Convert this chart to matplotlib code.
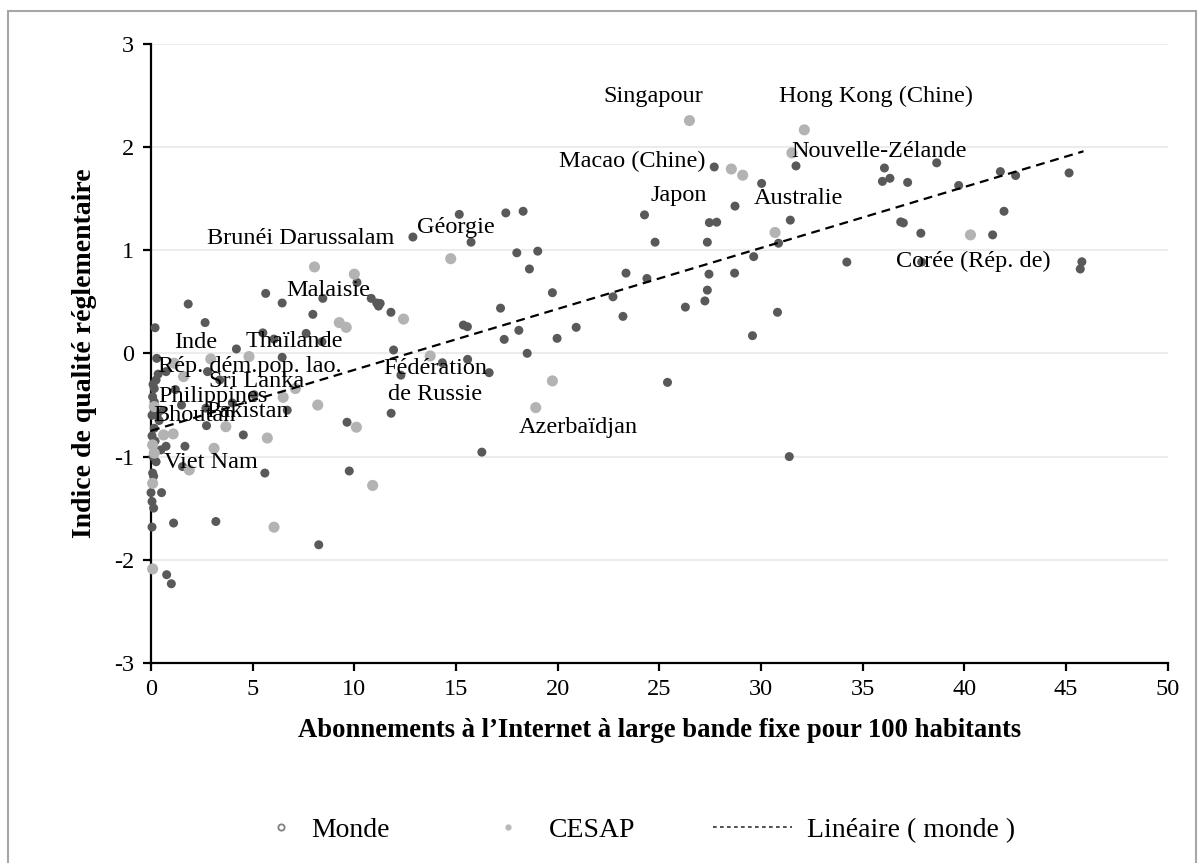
import matplotlib
matplotlib.use("Agg")
import matplotlib.pyplot as plt
from matplotlib.lines import Line2D
from matplotlib.patches import Rectangle

plt.rcParams['font.family'] = ['Liberation Serif', 'DejaVu Serif']
plt.rcParams['axes.unicode_minus'] = False

# ---- Data: Monde (world) ----
monde_x = [27.70, 30.03, 28.72, 24.27, 15.16, 17.45, 18.30, 12.88, 15.74, 27.46, 27.82, 24.79, 27.36,
           30.86, 17.99, 19.02, 18.61, 23.36, 24.39, 27.44, 28.70, 29.64, 27.36, 27.24, 26.28, 22.72,
           19.74, 23.21, 17.19, 15.36, 15.56, 30.81, 20.91, 18.09, 17.37, 19.97, 29.58, 11.27, 11.80,
           11.93, 14.33, 15.57, 16.63, 12.29, 18.50, 11.81, 25.40, 16.27,
           31.72, 36.07, 38.64, 35.97, 36.34, 37.21, 39.72, 41.77, 42.52, 45.15, 31.44, 34.22, 36.87,
           37.00, 37.86, 41.39, 41.95, 37.90, 45.78, 45.70, 31.39,
           10.13, 5.64, 6.45, 8.45, 1.83, 10.83, 11.10, 11.19, 7.96, 2.66, 0.20, 5.50, 7.63, 6.05,
           8.41, 4.20, 6.45, 0.28, 0.74, 2.78, 3.38, 0.25, 0.16, 5.07, 0.08, 0.16, 6.70, 2.70, 4.00,
           2.73, 9.64, 4.54, 0.16, 0.74, 1.67, 0.49, 1.55, 5.60, 9.75, 0.08, 0.13, 0.00, 0.52, 0.05,
           0.13, 0.05, 1.11, 3.19, 8.25, 0.77, 1.00,
           0.10, 0.30, 0.05, 0.20, 0.35, 0.50, 0.10, 0.25, 1.50, 1.20, 0.40, 0.05]
monde_y = [1.81, 1.65, 1.43, 1.345, 1.35, 1.364, 1.38, 1.13, 1.08, 1.27, 1.274, 1.08, 1.08,
           1.07, 0.977, 0.993, 0.82, 0.78, 0.728, 0.77, 0.78, 0.94, 0.615, 0.51, 0.45, 0.55,
           0.59, 0.36, 0.44, 0.276, 0.26, 0.40, 0.254, 0.225, 0.137, 0.147, 0.173, 0.486, 0.40,
           0.034, -0.09, -0.057, -0.186, -0.21, 0.002, -0.58, -0.28, -0.957,
           1.82, 1.80, 1.85, 1.67, 1.70, 1.66, 1.63, 1.765, 1.727, 1.752, 1.294, 0.887, 1.277,
           1.267, 1.167, 1.151, 1.38, 0.887, 0.89, 0.82, -1.00,
           0.69, 0.583, 0.49, 0.535, 0.48, 0.535, 0.49, 0.46, 0.38, 0.30, 0.25, 0.20, 0.195, 0.14,
           0.114, 0.044, -0.037, -0.047, -0.176, -0.176, -0.257, -0.257, -0.34, -0.40, -0.42, -0.47,
           -0.55, -0.53, -0.48, -0.70, -0.667, -0.79, -0.725, -0.90, -0.90, -0.935, -1.097, -1.16,
           -1.14, -1.16, -1.19, -1.35, -1.35, -1.436, -1.50, -1.684, -1.645, -1.63, -1.856, -2.146,
           -2.234,
           -0.30, -0.60, -0.80, -0.85, -0.20, -0.55, -1.00, -1.05, -0.50, -0.35, -0.65, -0.60]

# ---- Data: CESAP (ESCAP members) ----
cesap_x = [28.54, 29.10, 14.74, 19.74, 18.92, 12.42, 13.73, 32.13, 31.52, 30.69, 40.30, 26.48,
           8.04, 10.00, 9.26, 9.60, 4.82, 2.94, 1.14, 1.60, 7.10, 6.50, 0.16, 8.20, 3.68, 10.10,
           0.62, 1.09, 5.72, 3.10, 0.16, 0.08, 1.88, 10.90, 0.08, 6.05, 0.08]
cesap_y = [1.79, 1.73, 0.92, -0.266, -0.525, 0.334, -0.024, 2.17, 1.946, 1.174, 1.151, 2.26,
           0.84, 0.77, 0.30, 0.254, -0.03, -0.053, -0.095, -0.224, -0.34, -0.425, -0.515, -0.50,
           -0.71, -0.715, -0.79, -0.78, -0.82, -0.92, -0.967, -0.887, -1.13, -1.28, -1.26, -1.685,
           -2.09]

# ---- Linear trend (Monde), endpoints ----
trend_x = [0.0, 45.86]
trend_y = [-0.75, 1.962]

# ---- Country labels ----
label_text = ["Singapour", "Hong Kong (Chine)", "Macao (Chine)", "Nouvelle-Zélande", "Japon",
              "Australie", "Corée (Rép. de)", "Géorgie", "Brunéi Darussalam", "Malaisie",
              "Thaïlande", "Inde", "Rép. dém.pop. lao.", "Sri Lanka", "Philippines", "Pakistan",
              "Bhoutan", "Viet Nam", "Azerbaïdjan"]
label_x = [22.23, 30.89, 20.07, 31.51, 24.55, 29.66, 36.63, 13.07, 2.74, 6.64,
           4.67, 1.15, 0.36, 2.87, 0.36, 2.74, 0.11, 0.64, 18.07]
label_y = [2.49, 2.49, 1.868, 1.958, 1.53, 1.50, 0.89, 1.22, 1.118, 0.61,
           0.115, 0.105, -0.128, -0.274, -0.42, -0.558, -0.606, -1.06, -0.72]

x_ticks = [0, 5, 10, 15, 20, 25, 30, 35, 40, 45, 50]
y_ticks = [-3, -2, -1, 0, 1, 2, 3]

DARK = '#595959'
LIGHT = '#b3b3b3'

fig = plt.figure(figsize=(12.04, 8.63), dpi=100)
ax = fig.add_axes([151 / 1204, 1 - 662.7 / 863, (1167.7 - 151) / 1204, (662.7 - 44.3) / 863])

ax.set_xlim(0, 50)
ax.set_ylim(-3, 3)
ax.set_xticks(x_ticks)
ax.set_yticks(y_ticks)
ax.set_xticklabels([str(t) for t in x_ticks])
ax.set_yticklabels([str(t) for t in y_ticks])

ax.yaxis.grid(True, color='#ececec', linewidth=1.5, zorder=0)
ax.set_axisbelow(True)
for s in ['top', 'right']:
    ax.spines[s].set_visible(False)
for s in ['left', 'bottom']:
    ax.spines[s].set_color('black')
    ax.spines[s].set_linewidth(1.6)
ax.tick_params(axis='both', direction='out', length=6, width=1.6, labelsize=17.5, colors='black', pad=6)

ax.scatter(monde_x, monde_y, s=42, color=DARK, edgecolors='none', zorder=3, clip_on=False)
ax.scatter(cesap_x, cesap_y, s=64, color=LIGHT, edgecolors='none', zorder=4, clip_on=False)
ax.plot(trend_x, trend_y, color='black', linestyle=(0, (4, 2.6)), linewidth=1.6, zorder=5)

for t, x, y in zip(label_text, label_x, label_y):
    ax.text(x, y, t, fontsize=17.5, ha='left', va='center', color='black', zorder=6)
ax.text(13.97, -0.274, "Fédération\nde Russie", fontsize=17.5, ha='center', va='center',
        multialignment='center', linespacing=1.3, zorder=6)

ax.set_xlabel("Abonnements à l’Internet à large bande fixe pour 100 habitants",
              fontsize=19.2, fontweight='bold', labelpad=13)
ax.set_ylabel("Indice de qualité réglementaire", fontsize=20, fontweight='bold', labelpad=12)

# Legend entries
h_monde = Line2D([], [], linestyle='none', marker='o', markersize=4.5, markerfacecolor='white',
                 markeredgecolor='#808080', markeredgewidth=1.3)
h_cesap = Line2D([], [], linestyle='none', marker='o', markersize=4.5, markerfacecolor='#b8b8b8',
                 markeredgecolor='none')
h_lin = Line2D([], [], color='#333333', linestyle=(0, (2.2, 2.0)), linewidth=1.2)
ly = 1 - 830 / 863
common = dict(frameon=False, loc='center left', borderpad=0, borderaxespad=0, fontsize=20)
fig.legend([h_monde], ["Monde"], bbox_to_anchor=(267.1 / 1204, ly), handlelength=1.0,
           handletextpad=0.58, **common)
fig.legend([h_cesap], ["CESAP"], bbox_to_anchor=(493.7 / 1204, ly), handlelength=1.0,
           handletextpad=0.97, **common)
fig.legend([h_lin], ["Linéaire ( monde )"], bbox_to_anchor=(713 / 1204, ly), handlelength=2.84,
           handletextpad=0.54, **common)

# outer chart frame
fig.patches.append(Rectangle((8 / 1204, -0.05), (1196 - 8) / 1204, (863 - 11) / 863 + 0.05,
                             transform=fig.transFigure, fill=False, edgecolor='#a6a6a6',
                             linewidth=1.5, zorder=0))

fig.savefig("out.png", dpi=100)
